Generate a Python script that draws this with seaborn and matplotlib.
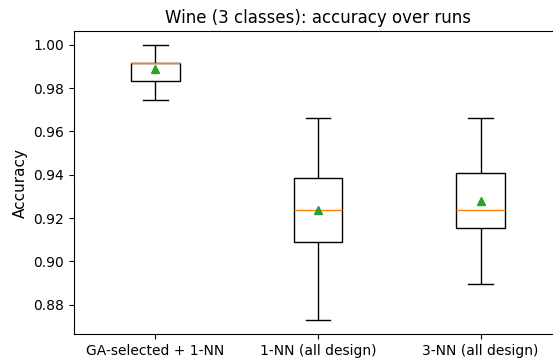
import numpy as np
import pandas as pd
import matplotlib
matplotlib.use("Agg")
import matplotlib.pyplot as plt
import seaborn as sns

# Per-run test accuracies for each classifier
methods = ["GA-selected + 1-NN", "1-NN (all design)", "3-NN (all design)"]
acc_ga_1nn = [0.9746, 0.9831, 0.9831, 0.9831, 0.9915, 0.9915, 0.9915, 0.9915, 1.0000, 1.0000]
acc_1nn = [0.8729, 0.9068, 0.9068, 0.9153, 0.9237, 0.9237, 0.9322, 0.9407, 0.9492, 0.9661]
acc_3nn = [0.8898, 0.9153, 0.9153, 0.9153, 0.9237, 0.9237, 0.9407, 0.9407, 0.9492, 0.9661]

df = pd.DataFrame({
    "method": np.repeat(methods, [len(acc_ga_1nn), len(acc_1nn), len(acc_3nn)]),
    "accuracy": acc_ga_1nn + acc_1nn + acc_3nn,
})

W, H, DPI = 553, 358, 100
fig = plt.figure(figsize=(W / DPI, H / DPI), dpi=DPI)
ax = fig.add_axes([74 / W, (H - 334) / H, 488 / W, 303 / H])

sns.boxplot(
    data=df, x="method", y="accuracy", order=methods, ax=ax,
    width=0.3, color="white", saturation=1, linecolor="black", linewidth=1.0,
    whis=1.5, showmeans=True,
    medianprops={"color": "#ff7f0e", "linewidth": 1.0},
    meanprops={"marker": "^", "markerfacecolor": "#2ca02c",
               "markeredgecolor": "#2ca02c", "markersize": 6},
)

ax.set_xlim(-0.5, 2.5)
ax.set_ylim(0.8665, 1.0064)
ax.set_yticks([0.88, 0.90, 0.92, 0.94, 0.96, 0.98, 1.00])
ax.set_yticklabels([f"{t:.2f}" for t in ax.get_yticks()])
ax.tick_params(labelsize=10)
ax.set_xlabel("")
ax.set_ylabel("Accuracy", fontsize=11)
ax.set_title("Wine (3 classes): accuracy over runs", fontsize=12)

fig.savefig("out.png", dpi=DPI)
